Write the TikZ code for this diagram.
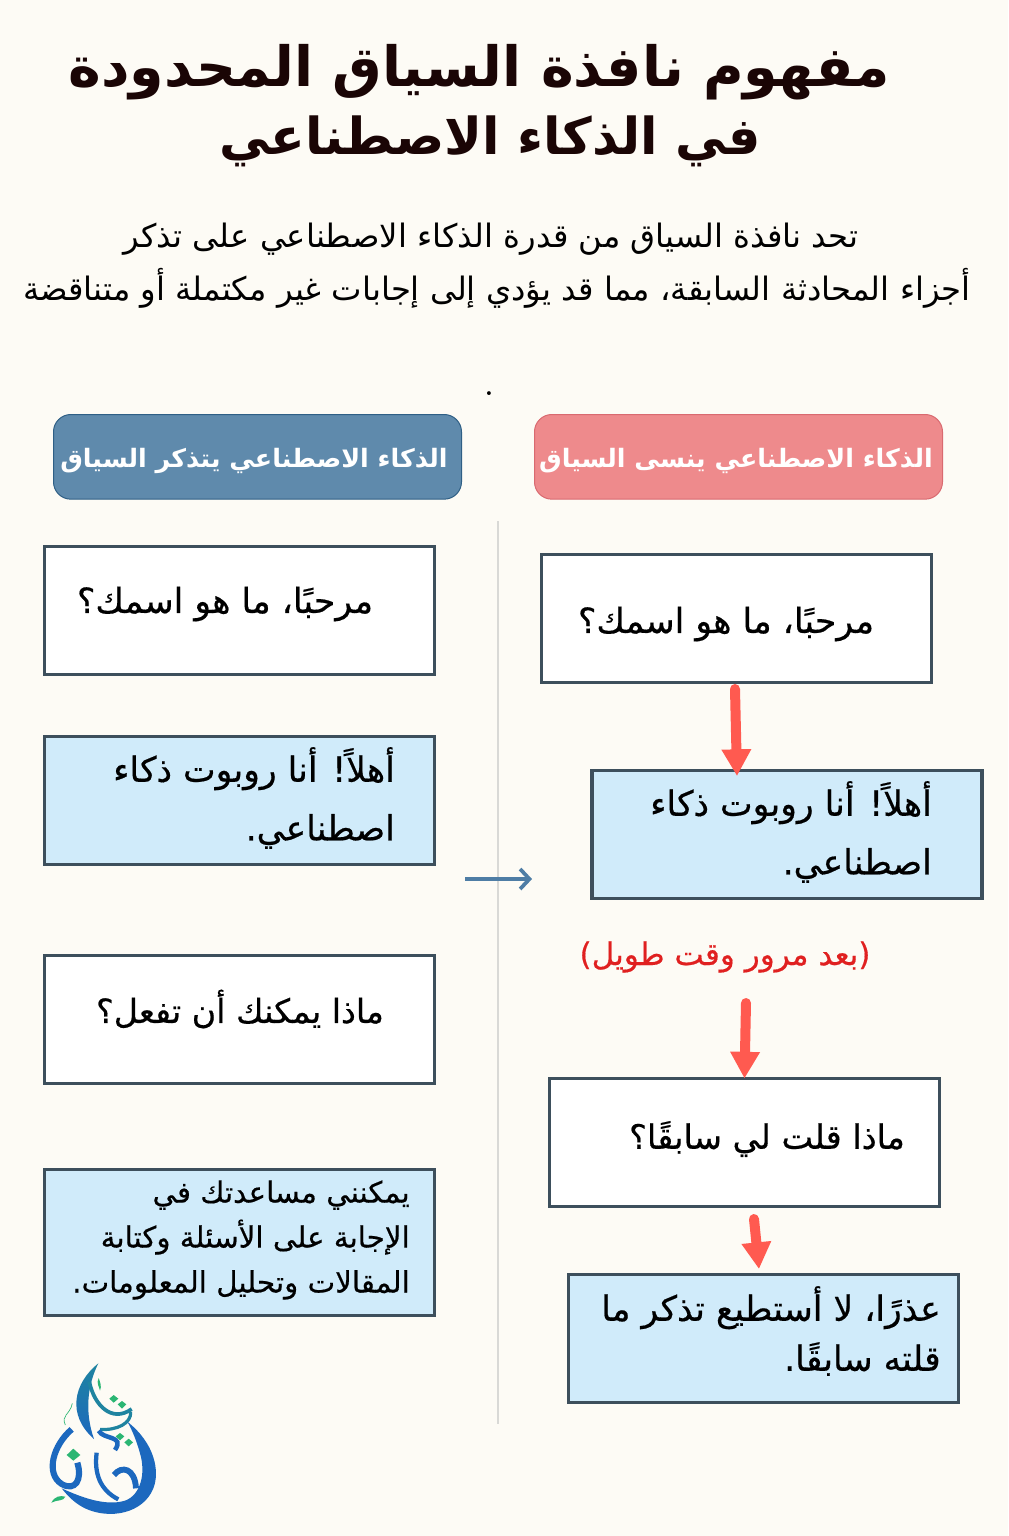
\documentclass[tikz,border=0pt]{standalone}
\usepackage{fontspec}
\usepackage{xcolor}
\usetikzlibrary{arrows.meta}
\TeXXeTstate=1
\newfontfamily\arabicfont[Script=Arabic]{DejaVu Sans}
\newfontfamily\arabicmid[Script=Arabic,FakeBold=0.5]{DejaVu Sans}
\newcommand{\artext}[1]{\beginR #1\endR}
\definecolor{pagecol}{RGB}{253,251,245}
\definecolor{boxedge}{RGB}{61,79,92}
\definecolor{answerfill}{RGB}{208,235,250}
\definecolor{arrowred}{RGB}{255,90,80}
\definecolor{logoblue}{RGB}{28,104,190}
\definecolor{logoteal}{RGB}{31,132,160}
\definecolor{logogreen}{RGB}{43,182,115}
\tikzset{
  msgbox/.style={draw=boxedge,line width=2.8pt,anchor=north west,minimum width=292.5pt,minimum height=96pt,inner sep=0pt,outer sep=0pt},
  headbox/.style={anchor=north west,rounded corners=13pt,line width=0.75pt,minimum width=306pt,minimum height=63.5pt,inner sep=0pt,outer sep=0pt},
  msgtext/.style={inner sep=0.75pt,align=right,font=\arabicmid\fontsize{26}{44}\selectfont},
  headtext/.style={inner sep=0.75pt,text=white,font=\arabicfont\bfseries\fontsize{19}{24}\selectfont},
  redarrow/.style={draw=arrowred,line width=7.5pt,line cap=round,-{Triangle[width=21pt,length=20pt]}},
}
\begin{document}
\begin{tikzpicture}[x=0.75pt,y=0.75pt,yscale=-1,xscale=1]
%page
\fill [pagecol] (0,0) rectangle (1008,1536);
\useasboundingbox (0,0) rectangle (1008,1536);

%Straight Lines
\draw [color={rgb, 255:red, 217; green, 217; blue, 214 },line width=1.5pt]  (498,521) -- (498,1424) ;

%Shape: Header boxes
\draw (53.5,414.5) node (headleft) [headbox,fill={rgb, 255:red, 95; green, 138; blue, 172 },draw={rgb, 255:red, 47; green, 95; blue, 133 }] {};
\draw (534.5,414.5) node (headright) [headbox,fill={rgb, 255:red, 238; green, 138; blue, 140 },draw={rgb, 255:red, 217; green, 106; blue, 112 }] {};

%Shape: Left column
\draw (44.5,546.5) node (askleft) [msgbox,fill=white] {};
\draw (44.5,736.5) node (replyleft) [msgbox,fill=answerfill] {};
\draw (44.5,955.5) node (canleft) [msgbox,fill=white] {};
\draw (44.5,1169.5) node (helpleft) [msgbox,fill=answerfill,minimum height=109.5pt] {};

%Shape: Right column
\draw (541.5,554.5) node (askright) [msgbox,fill=white] {};
\draw (592,770.5) node (replyright) [msgbox,fill=answerfill] {};
\draw (549.5,1078.5) node (saidright) [msgbox,fill=white] {};
\draw (568.5,1274.5) node (sorryright) [msgbox,fill=answerfill] {};

% Text Node
\draw (479,72) node (titleone) [inner sep=0.75pt] [font=\arabicfont\bfseries\fontsize{41.6}{48}\selectfont] [text={rgb, 255:red, 26; green, 5; blue, 5 }] {\artext{مفهوم نافذة السياق المحدودة}};
% Text Node
\draw (490,141) node (titletwo) [inner sep=0.75pt] [font=\arabicfont\bfseries\fontsize{38.2}{48}\selectfont] [text={rgb, 255:red, 26; green, 5; blue, 5 }] {\artext{في الذكاء الاصطناعي}};
% Text Node
\draw (491,239) node (introone) [inner sep=0.75pt] [font=\arabicfont\fontsize{24.2}{30}\selectfont] {\artext{تحد نافذة السياق من قدرة الذكاء الاصطناعي على تذكر}};
% Text Node
\draw (497,288) node (introtwo) [inner sep=0.75pt] [font=\arabicfont\fontsize{24.2}{30}\selectfont] {\artext{أجزاء المحادثة السابقة، مما قد يؤدي إلى إجابات غير مكتملة أو متناقضة}};
% Text Node
\draw (489,394) node (lonedot) [inner sep=0.75pt] [font=\bfseries\fontsize{20}{24}\selectfont] {.};
% Text Node
\draw (254,461) node (headlefttext) [headtext] {\artext{الذكاء الاصطناعي يتذكر السياق}};
% Text Node
\draw (736,461) node (headrighttext) [headtext] {\artext{الذكاء الاصطناعي ينسى السياق}};
% Text Node
\draw (225,604) node (askleftt) [msgtext] {\artext{مرحبًا، ما هو اسمك؟}};
% Text Node
\draw (254,798) node (replyleftt) [msgtext] {\artext{أهلاً! أنا روبوت ذكاء}\\\artext{اصطناعي.}};
% Text Node
\draw (240,1009) node (canleftt) [msgtext] [font=\arabicmid\fontsize{25}{30}\selectfont] {\artext{ماذا يمكنك أن تفعل؟}};
% Text Node
\draw (241,1240) node (helpleftt) [msgtext] [font=\arabicmid\fontsize{22}{33.7}\selectfont] {\artext{يمكنني مساعدتك في}\\\artext{الإجابة على الأسئلة وكتابة}\\\artext{المقالات وتحليل المعلومات.}};
% Text Node
\draw (726,624) node (askrightt) [msgtext] {\artext{مرحبًا، ما هو اسمك؟}};
% Text Node
\draw (791,832) node (replyrightt) [msgtext] {\artext{أهلاً! أنا روبوت ذكاء}\\\artext{اصطناعي.}};
% Text Node
\draw (725,957) node (latertext) [msgtext] [font=\arabicmid\fontsize{23.3}{30}\selectfont] [text={rgb, 255:red, 224; green, 32; blue, 32 }] {\artext{(بعد مرور وقت طويل)}};
% Text Node
\draw (767,1139) node (saidrightt) [msgtext] [font=\arabicmid\fontsize{25.2}{30}\selectfont] {\artext{ماذا قلت لي سابقًا؟}};
% Text Node
\draw (771,1331) node (sorryrightt) [msgtext] [font=\arabicmid\fontsize{26}{37.5}\selectfont] {\artext{عذرًا، لا أستطيع تذكر ما}\\\artext{قلته سابقًا.}};

%Straight Lines with arrows
\coordinate (tipone) at (737,776);
\coordinate (tailone) at (735,689);
\coordinate (tailtwo) at (746,1003);
\coordinate (tailthree) at (754,1219);
\coordinate (tipthree) at (759,1269);
\coordinate (tailblue) at (465,879);
\coordinate (tipblue) at (532,879);
\draw [redarrow] (tailone) -- (tipone) ;
\draw [redarrow] (tailtwo) -- (saidright.north) ;
\draw [redarrow] (tailthree) -- (tipthree) ;
\draw [color={rgb, 255:red, 78; green, 125; blue, 165 },line width=2.6pt,-{Straight Barb[length=7pt,width=15pt,line width=2.8pt]}] (tailblue) -- (tipblue) ;

%Logo
\begin{scope}[shift={(20,1340)},x=0.25pt,y=0.25pt]
\shade [top color=logoteal,bottom color=logoblue] (235,70) .. controls (160,130) and (140,225) .. (222,297) .. controls (195,220) and (200,140) .. (235,70) -- cycle ;
\draw [logoteal,line width=2.8pt] (208,125) .. controls (222,195) and (275,250) .. (335,207) ;
\draw [logoteal,line width=2.4pt] (240,268) .. controls (290,272) and (335,250) .. (332,215) ;
\draw [logoblue,line width=3.4pt] (236,272) .. controls (250,300) and (315,285) .. (285,330) ;
\fill [logoblue] (322,245) .. controls (405,310) and (420,395) .. (400,445) .. controls (370,520) and (270,540) .. (195,505) .. controls (165,490) and (145,470) .. (125,445) .. controls (180,470) and (255,500) .. (315,482) .. controls (362,465) and (378,400) .. (360,340) .. controls (352,310) and (338,272) .. (322,245) -- cycle ;
\draw [logoblue,line width=4.6pt] (155,268) .. controls (100,315) and (75,400) .. (125,432) .. controls (165,455) and (188,420) .. (172,368) ;
\draw [logoblue,line width=3.2pt] (230,338) .. controls (222,400) and (240,450) .. (295,478) ;
\draw [logoblue,line width=4.4pt] (282,405) .. controls (305,375) and (345,385) .. (348,445) ;
\fill [logogreen] (140,345) -- (160,326) -- (181,345) -- (160,362) -- cycle ;
\fill [logogreen] (268,176) -- (281,165) -- (295,176) -- (281,188) -- cycle ;
\fill [logogreen] (293,193) -- (306,183) -- (319,193) -- (306,206) -- cycle ;
\fill [logogreen] (287,289) -- (300,279) -- (313,289) -- (300,301) -- cycle ;
\fill [logogreen] (313,307) -- (326,296) -- (339,307) -- (326,319) -- cycle ;
\fill [logogreen] (236,114) .. controls (228,130) and (238,140) .. (240,152) .. controls (246,138) and (240,126) .. (236,114) -- cycle ;
\draw [logogreen,line width=0.5pt] (157,190) .. controls (150,225) and (122,225) .. (136,255) ;
\fill [logogreen] (94,488) .. controls (105,468) and (120,466) .. (136,470) .. controls (130,485) and (112,478) .. (94,488) -- cycle ;
\end{scope}

\end{tikzpicture}
\end{document}
